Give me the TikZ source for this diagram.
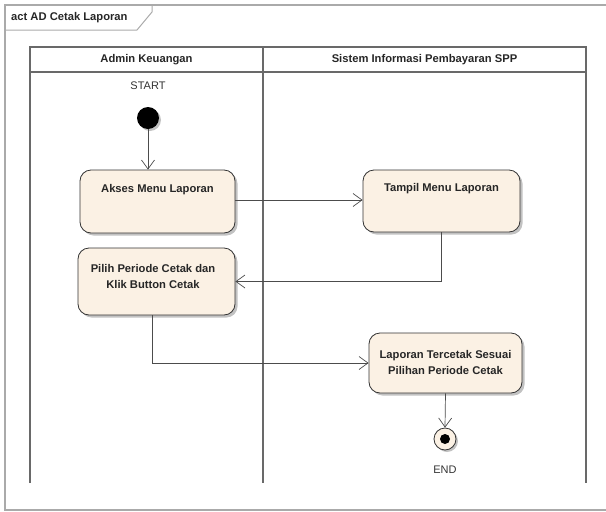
\documentclass[tikz,border=0pt]{standalone}
\usepackage{fontspec}
\setmainfont{Liberation Sans}
\usetikzlibrary{arrows.meta,shadows}
\definecolor{actfill}{RGB}{251,241,228}
\definecolor{lanegray}{RGB}{105,105,105}
\definecolor{framegray}{RGB}{170,170,170}
\tikzset{
	act/.style={draw=black!80, line width=0.8pt, fill=actfill, rounded corners=11pt,
		drop shadow={shadow xshift=2.5pt, shadow yshift=-2.5pt, fill=black!40, opacity=0.6}},
	acttext/.style={font=\fontsize{11.2}{16}\selectfont\bfseries, text=black!85, align=center, inner sep=0pt},
	flow/.style={draw=black!70, line width=0.7pt, -{Straight Barb[length=9pt, width=13pt, line width=0.7pt]}},
	plain/.style={font=\fontsize{11}{13}\selectfont, text=black!80, inner sep=0pt}
}

\begin{document}
\begin{tikzpicture}[x=1pt, y=-1pt]
			%%%%% START %%%%%
			\useasboundingbox (0,0) rectangle (606,512);
			
			% frame and tab
			\draw[framegray, line width=1.2pt] (608,5) -- (5,5) -- (5,510) -- (608,510);
			\draw[framegray, line width=1pt] (5,30) -- (137,30) -- (152,12) -- (152,5);
			\node[acttext, anchor=west] (title) at (11,18) {act AD Cetak Laporan};
			
			% swimlanes
			\draw[lanegray, line width=1.3pt] (30,483) -- (30,47) -- (586,47) -- (586,483);
			\draw[lanegray, line width=1.3pt] (30,72) -- (586,72);
			\draw[lanegray, line width=1.3pt] (263,47) -- (263,483);
			\node[acttext] (lane1) at (146.5,60) {Admin Keuangan};
			\node[acttext] (lane2) at (424.5,60) {Sistem Informasi Pembayaran SPP};
			
			% start
			\node[plain] (starttext) at (148,86) {START};
			\node[circle, fill=black, minimum size=22pt, inner sep=0pt,
				drop shadow={shadow xshift=2pt, shadow yshift=-2pt, fill=black!40, opacity=0.6}] (start) at (148,118) {};
			
			% activities
			\node[act, minimum width=155pt, minimum height=63pt] (akses) at (157.5,201.5) {};
			\node[acttext] (aksestext) at (157.5,190) {Akses Menu Laporan};
			
			\node[act, minimum width=157pt, minimum height=62pt] (tampil) at (441.5,201) {};
			\node[acttext] (tampiltext) at (441.5,189) {Tampil Menu Laporan};
			
			\node[act, minimum width=157pt, minimum height=67pt] (pilih) at (156.5,281.5) {};
			\node[acttext] (pilihtext) at (153,276.5) {Pilih Periode Cetak dan\\ Klik Button Cetak};
			
			\node[act, minimum width=153pt, minimum height=60pt] (laporan) at (445.5,363) {};
			\node[acttext] (laporantext) at (445.5,362.5) {Laporan Tercetak Sesuai\\ Pilihan Periode Cetak};
			
			% end
			\node[circle, draw=black!80, line width=0.8pt, fill=actfill, minimum size=22pt, inner sep=0pt,
				drop shadow={shadow xshift=2pt, shadow yshift=-2pt, fill=black!40, opacity=0.6}] (end) at (445,439) {};
			\node[circle, fill=black, minimum size=10pt, inner sep=0pt] (enddot) at (end) {};
			\node[plain] (endtext) at (445,470) {END};
			
			% flows
			\draw[flow] (start) -- (start |- akses.north);
			\draw[flow] (akses.east |- 0,200) -- (tampil.west |- 0,200);
			\draw[flow] (tampil.south) |- (pilih.east);
			\draw[flow] ([xshift=-4pt]pilih.south) |- (laporan.west);
			\draw[flow] (laporan.south) -- (end.north);
			%%%%% END %%%%%
		\end{tikzpicture}
\end{document}
